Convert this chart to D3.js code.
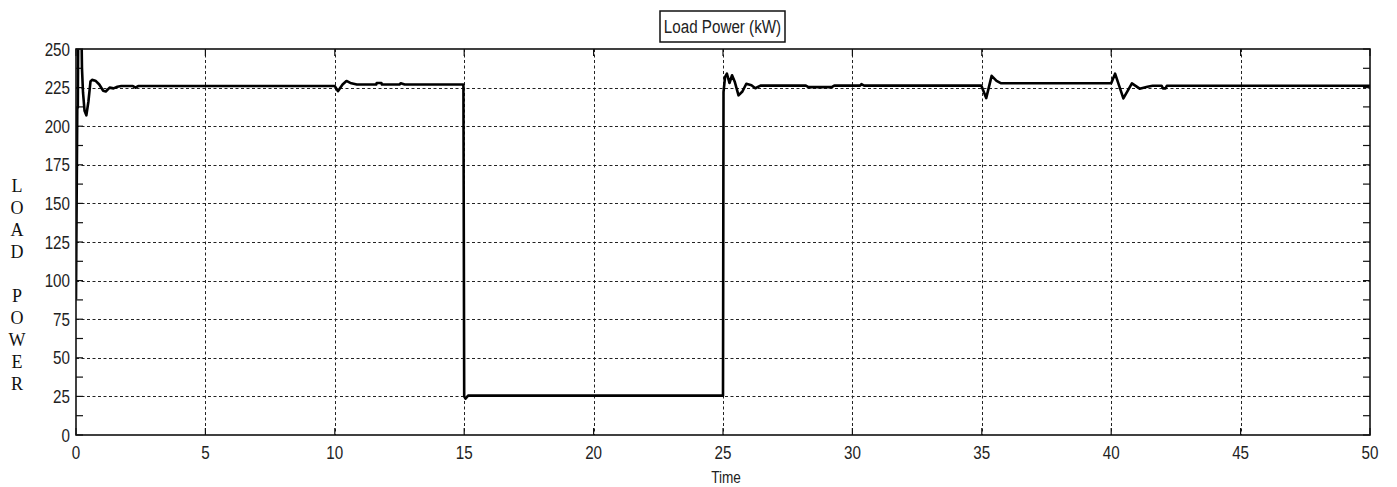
<!DOCTYPE html>
<html>
<head>
<meta charset="utf-8">
<script src="https://cdn.jsdelivr.net/npm/d3@7/dist/d3.min.js"></script>
<style>
  html, body { margin: 0; padding: 0; background: #fff; }
  svg { display: block; }
  .tick-label { font-family: "Liberation Sans", Arial, sans-serif; font-size: 19px; fill: #222; }
  .ylab { font-family: "Liberation Serif", "Times New Roman", serif; font-size: 18px; fill: #111; }
</style>
</head>
<body>
<svg id="chart" width="1397" height="487"></svg>
<script>
// Simulated load power trace: time (s) and power (kW)
const timeSeconds = [
  0, 0.02, 0.05, 0.07, 0.09, 0.12, 0.2, 0.23, 0.27, 0.33, 0.4, 0.48, 0.56, 0.62, 0.75,
  0.9, 1.05, 1.15, 1.3, 1.45, 1.6, 1.75, 2.2, 2.3, 2.4,
  10.0, 10.12, 10.3, 10.45, 10.6, 10.85, 11.6, 11.62, 11.8, 11.82, 12.5, 12.55, 12.7,
  14.97, 15.0, 15.05, 15.15, 15.3, 24.98, 25.0,
  25.02, 25.08, 25.15, 25.25, 25.35, 25.45, 25.6, 25.75, 25.9, 26.1, 26.25, 26.45,
  28.2, 28.3, 29.2, 29.3, 30.3, 30.35, 30.45,
  34.98, 35.17, 35.38, 35.57, 35.75,
  40.0, 40.15, 40.47, 40.8, 41.1, 41.4, 41.6, 41.95, 42.0, 42.1, 42.15, 50
];
const loadPowerKW = [
  88, 140, 212, 212, 275, 275, 275, 238, 222, 210, 207, 216, 229, 230, 229.5,
  227, 223, 222.5, 225, 224.5, 225.5, 226, 226, 225, 226,
  226, 222.7, 227, 229.3, 228, 227, 227, 228, 228, 227, 227, 227.8, 227,
  227, 25, 23.5, 25.5, 25.5, 25.5, 25.5,
  222, 232, 234, 228, 233, 229, 220, 222.5, 227.5, 226.5, 224.6, 226.3,
  226.3, 225.3, 225.3, 226.3, 226.3, 227.2, 226.3,
  226.3, 218.2, 232.6, 229.4, 227.8,
  227.8, 234, 218, 227.7, 224.3, 225.6, 226.2, 226.2, 224.5, 224.5, 226.2, 226.2
];

const xTicks = [0, 5, 10, 15, 20, 25, 30, 35, 40, 45, 50];
const yTicks = [0, 25, 50, 75, 100, 125, 150, 175, 200, 225, 250];
const yMinorTicks = [12.5, 37.5, 62.5, 87.5, 112.5, 137.5, 162.5, 187.5, 212.5, 237.5];
const titleText = "Load Power (kW)";
const xTitle = "Time";
const yTitleLetters = ["L", "O", "A", "D", "", "P", "O", "W", "E", "R"];

const margin = { left: 76, top: 49, right: 27, bottom: 52 };
const W = 1397, H = 487;
const pw = W - margin.left - margin.right;
const ph = H - margin.top - margin.bottom;
const squeeze = 0.8; // condensed look for sans labels

const svg = d3.select("#chart");
const x = d3.scaleLinear().domain([0, 50]).range([margin.left, margin.left + pw]);
const y = d3.scaleLinear().domain([0, 250]).range([margin.top + ph, margin.top]);

// dashed grid
const grid = svg.append("g").attr("stroke", "#222").attr("stroke-width", 1)
  .attr("stroke-dasharray", "3,2.5");
grid.selectAll("line.gx").data(xTicks.slice(1, -1)).join("line")
  .attr("x1", d => Math.round(x(d)) + 0.5).attr("x2", d => Math.round(x(d)) + 0.5)
  .attr("y1", margin.top).attr("y2", margin.top + ph);
grid.selectAll("line.gy").data(yTicks.slice(1, -1)).join("line")
  .attr("y1", d => Math.round(y(d)) + 0.5).attr("y2", d => Math.round(y(d)) + 0.5)
  .attr("x1", margin.left).attr("x2", margin.left + pw);

// inward ticks on all sides
const tickLen = 7;
const ticks = svg.append("g").attr("stroke", "#111").attr("stroke-width", 1.2);
const allY = yTicks.concat(yMinorTicks);
ticks.selectAll("line.yl").data(allY).join("line")
  .attr("x1", margin.left).attr("x2", margin.left + tickLen)
  .attr("y1", d => y(d)).attr("y2", d => y(d));
ticks.selectAll("line.yr").data(allY).join("line")
  .attr("x1", margin.left + pw - tickLen).attr("x2", margin.left + pw)
  .attr("y1", d => y(d)).attr("y2", d => y(d));
ticks.selectAll("line.xb").data(xTicks).join("line")
  .attr("x1", d => x(d)).attr("x2", d => x(d))
  .attr("y1", margin.top + ph).attr("y2", margin.top + ph - tickLen);
ticks.selectAll("line.xt").data(xTicks).join("line")
  .attr("x1", d => x(d)).attr("x2", d => x(d))
  .attr("y1", margin.top).attr("y2", margin.top + tickLen);

// signal line, clipped to the plot box
svg.append("clipPath").attr("id", "plotclip").append("rect")
  .attr("x", margin.left).attr("y", margin.top).attr("width", pw).attr("height", ph);
const pts = timeSeconds.map((t, i) => [t, loadPowerKW[i]]);
const line = d3.line().x(d => x(d[0])).y(d => y(d[1]));
svg.append("path").datum(pts)
  .attr("clip-path", "url(#plotclip)")
  .attr("fill", "none").attr("stroke", "#000").attr("stroke-width", 2.6)
  .attr("stroke-linejoin", "round")
  .attr("d", line);

// axis box
svg.append("rect").attr("x", margin.left).attr("y", margin.top)
  .attr("width", pw).attr("height", ph)
  .attr("fill", "none").attr("stroke", "#111").attr("stroke-width", 1.6);

// condensed text helper
function label(g, px, py, anchor, txt, size) {
  const t = g.append("text").attr("class", "tick-label")
    .attr("transform", `translate(${px},${py}) scale(${squeeze},1)`)
    .attr("text-anchor", anchor).attr("dominant-baseline", "central")
    .text(txt);
  if (size) t.style("font-size", size + "px");
  return t;
}

// tick labels
const yl = svg.append("g");
yTicks.forEach(d => label(yl, margin.left - 6, y(d), "end", d));
const xl = svg.append("g");
xTicks.forEach(d => label(xl, x(d), margin.top + ph + 17, "middle", d));

// axis titles
label(svg, x(25) + 3, 477, "middle", xTitle, 17);
svg.append("g").selectAll("text").data(yTitleLetters).join("text")
  .attr("class", "ylab")
  .attr("x", 17).attr("y", (d, i) => 186 + i * 22)
  .attr("text-anchor", "middle").attr("dominant-baseline", "central")
  .text(d => d);

// boxed title
const title = svg.append("g");
title.append("rect").attr("x", 660).attr("y", 11).attr("width", 125).attr("height", 31)
  .attr("fill", "#fff").attr("stroke", "#111").attr("stroke-width", 1.5);
label(title, 722.5, 26.5, "middle", titleText, 19);
</script>
</body>
</html>
